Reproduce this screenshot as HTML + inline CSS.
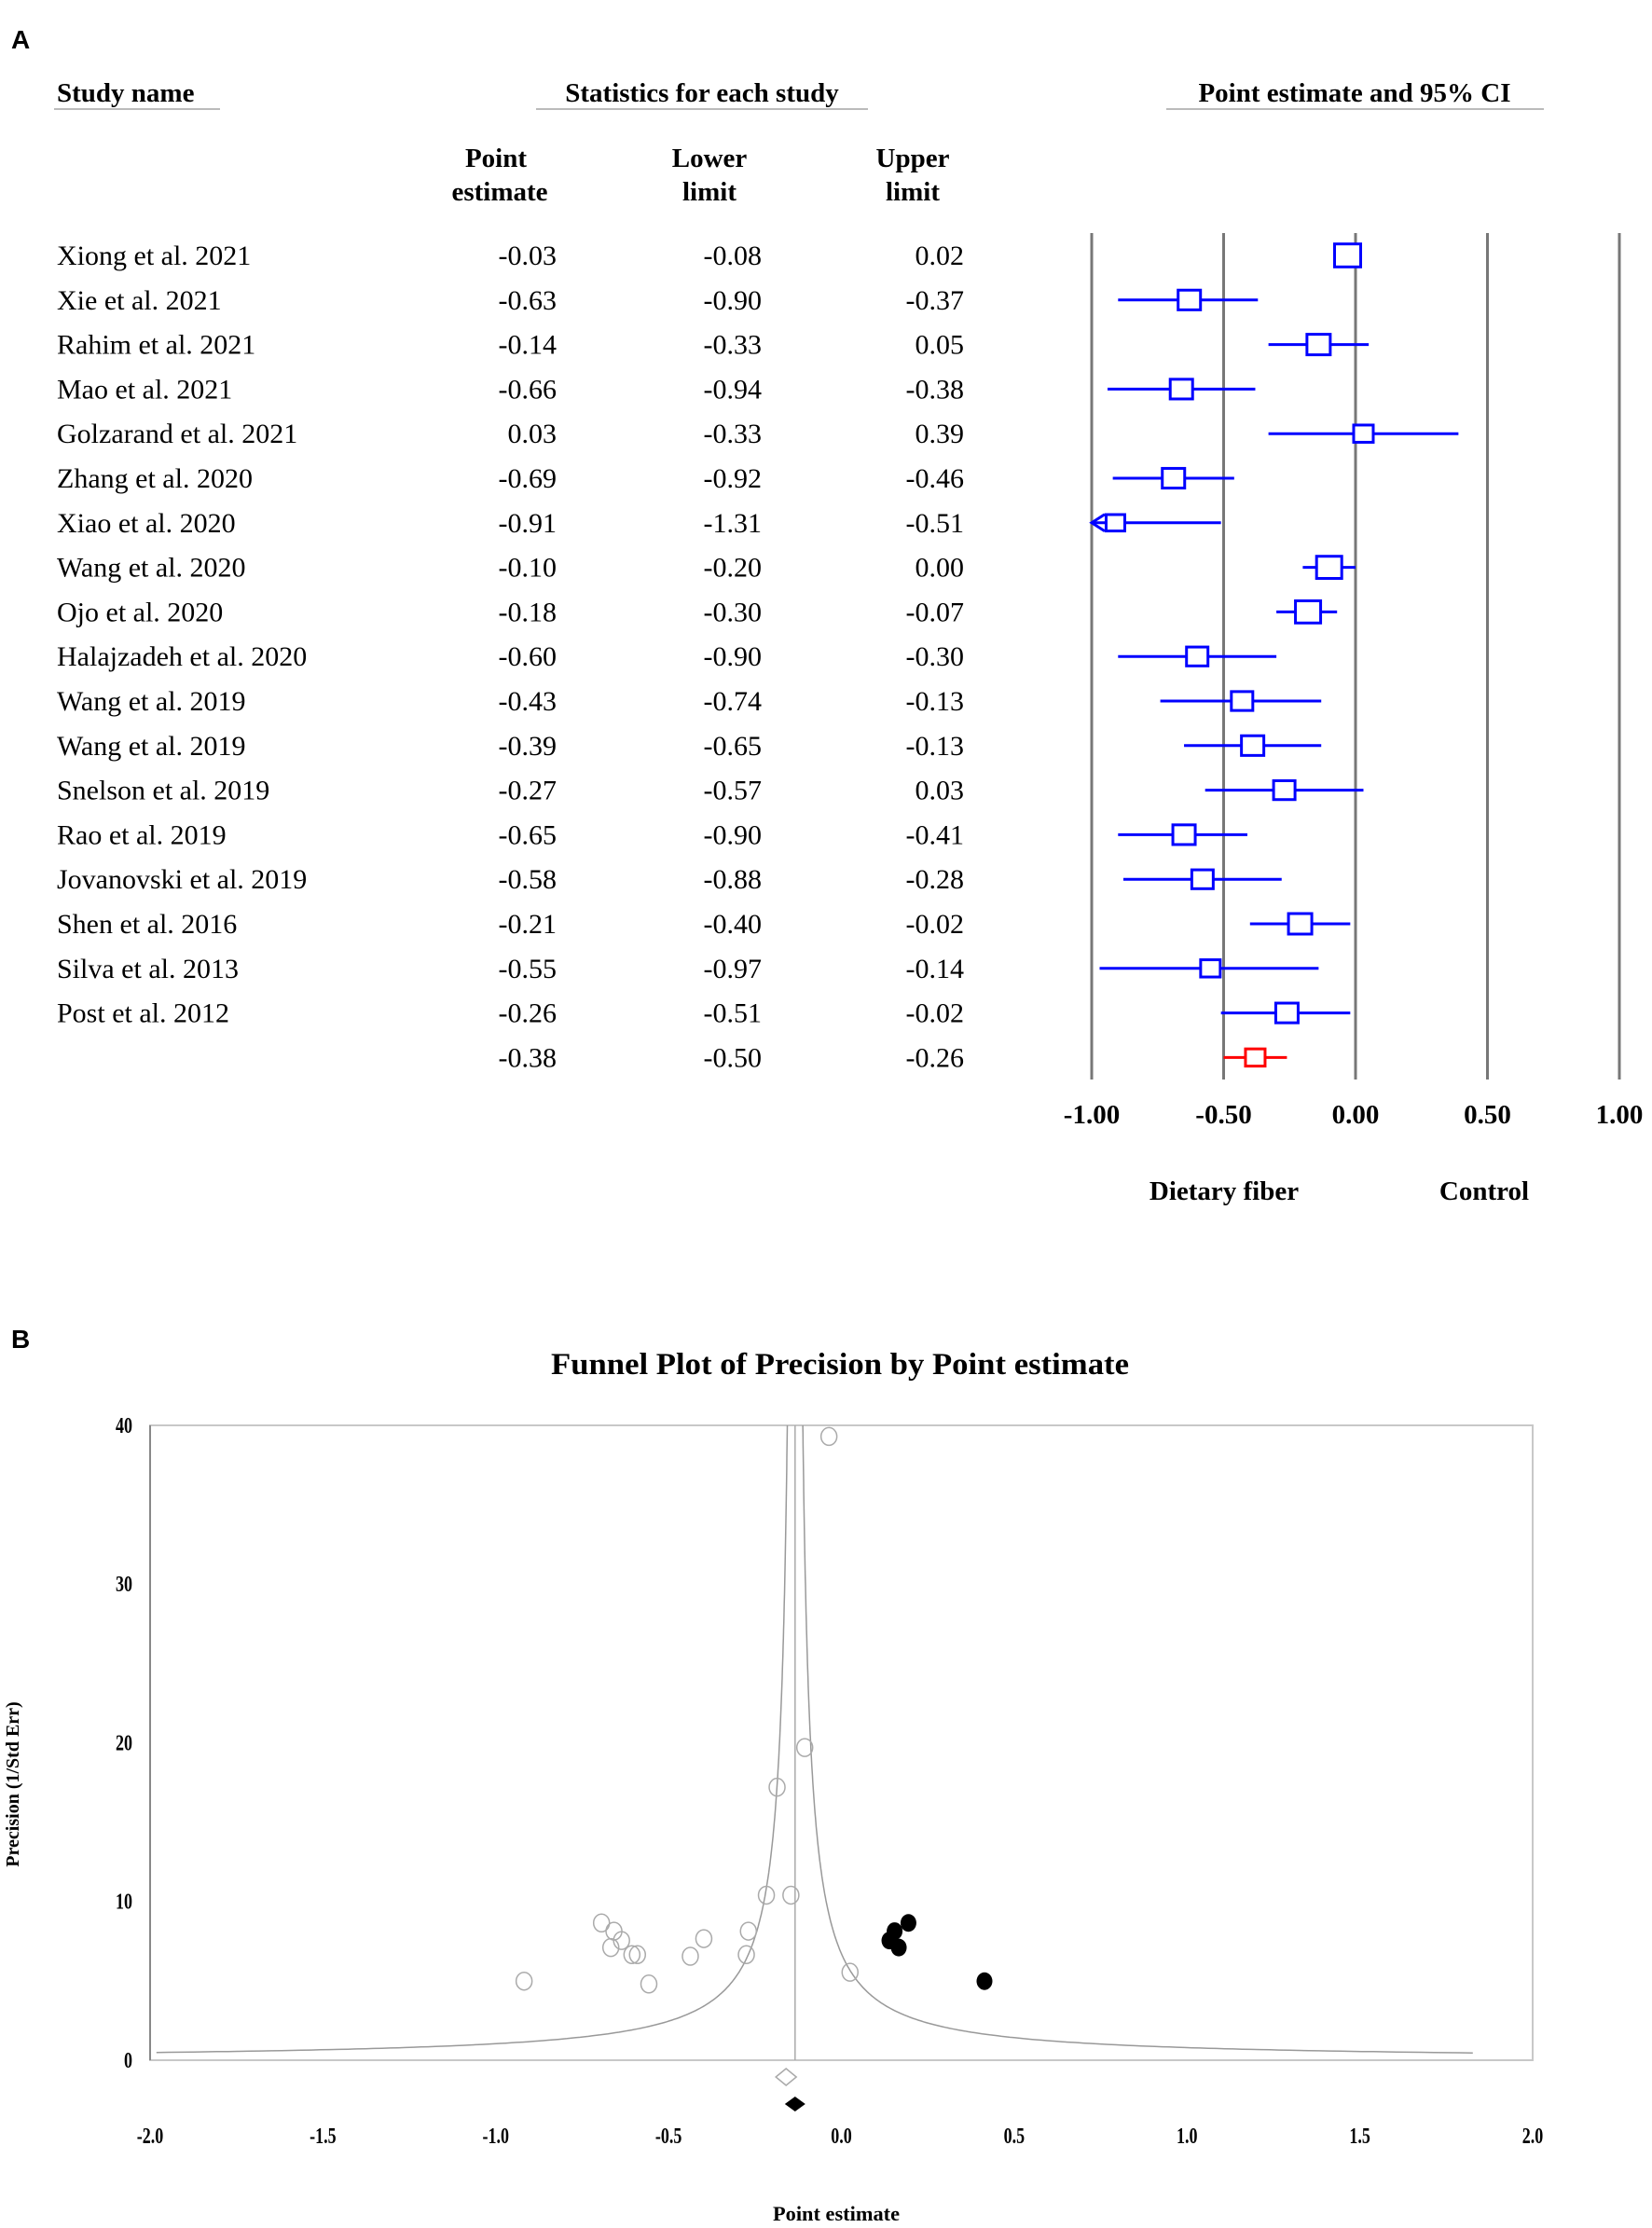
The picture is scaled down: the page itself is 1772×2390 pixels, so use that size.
<!DOCTYPE html>
<html><head><meta charset="utf-8"><style>
html,body{margin:0;padding:0;background:#fff;}
svg{display:block;}
</style></head><body>
<svg id="fig" width="1772" height="2390" viewBox="0 0 1772 2390" xmlns="http://www.w3.org/2000/svg" font-family="'Liberation Serif', serif">
<text x="12" y="52" font-family="'Liberation Sans', sans-serif" font-weight="bold" font-size="28">A</text>
<text x="12" y="1446" font-family="'Liberation Sans', sans-serif" font-weight="bold" font-size="28">B</text>
<g font-weight="bold" font-size="29">
<text x="61" y="109">Study name</text>
<line x1="58" y1="117" x2="236" y2="117" stroke="#bbb" stroke-width="2"/>
<text x="753" y="109" text-anchor="middle">Statistics for each study</text>
<line x1="575" y1="117" x2="931" y2="117" stroke="#bbb" stroke-width="2"/>
<text x="1453" y="109" text-anchor="middle">Point estimate and 95% CI</text>
<line x1="1251" y1="117" x2="1656" y2="117" stroke="#bbb" stroke-width="2"/>
<text x="532" y="179" text-anchor="middle">Point</text><text x="536" y="215" text-anchor="middle">estimate</text>
<text x="761" y="179" text-anchor="middle">Lower</text><text x="761" y="215" text-anchor="middle">limit</text>
<text x="979" y="179" text-anchor="middle">Upper</text><text x="979" y="215" text-anchor="middle">limit</text>
</g>
<g id="forest"></g>
<g id="funnel"></g>
</svg>
<script>
const studies=["Xiong et al. 2021","Xie et al. 2021","Rahim et al. 2021","Mao et al. 2021","Golzarand et al. 2021","Zhang et al. 2020","Xiao et al. 2020","Wang et al. 2020","Ojo et al. 2020","Halajzadeh et al. 2020","Wang et al. 2019","Wang et al. 2019","Snelson et al. 2019","Rao et al. 2019","Jovanovski et al. 2019","Shen et al. 2016","Silva et al. 2013","Post et al. 2012",""];
const pointEst=[-0.03,-0.63,-0.14,-0.66,0.03,-0.69,-0.91,-0.10,-0.18,-0.60,-0.43,-0.39,-0.27,-0.65,-0.58,-0.21,-0.55,-0.26,-0.38];
const lowerLim=[-0.08,-0.90,-0.33,-0.94,-0.33,-0.92,-1.31,-0.20,-0.30,-0.90,-0.74,-0.65,-0.57,-0.90,-0.88,-0.40,-0.97,-0.51,-0.50];
const upperLim=[0.02,-0.37,0.05,-0.38,0.39,-0.46,-0.51,0.00,-0.07,-0.30,-0.13,-0.13,0.03,-0.41,-0.28,-0.02,-0.14,-0.02,-0.26];
const boxSize=[28,24,25,24,21,24,20,27,27,23,23,24,23,24,23,25,21,24,21];
const forestTicks=[-1,-0.5,0,0.5,1];
const forestTickLabels=["-1.00","-0.50","0.00","0.50","1.00"];

const funnelOpenX=[-0.036,-0.106,-0.186,-0.217,-0.146,-0.694,-0.658,-0.667,-0.636,-0.606,-0.59,-0.437,-0.398,-0.269,-0.275,-0.918,-0.557,0.025];
const funnelOpenY=[39.3,19.7,17.2,10.4,10.4,8.65,8.13,7.1,7.54,6.65,6.65,6.55,7.66,8.13,6.65,4.98,4.8,5.54];
const funnelFilledX=[0.139,0.154,0.166,0.194,0.414];
const funnelFilledY=[7.54,8.13,7.1,8.65,4.98];
const funnelXTicks=[-2,-1.5,-1,-0.5,0,0.5,1,1.5,2];
const funnelXTickLabels=["-2.0","-1.5","-1.0","-0.5","0.0","0.5","1.0","1.5","2.0"];
const funnelYTicks=[0,10,20,30,40];
const observedMean=-0.16;
const adjustedMean=-0.134;

const NS="http://www.w3.org/2000/svg";
function mk(tag,attrs,parent,text){const e=document.createElementNS(NS,tag);for(const k in attrs)e.setAttribute(k,attrs[k]);if(text!==undefined)e.textContent=text;parent.appendChild(e);return e;}

// forest
const fg=document.getElementById('forest');
const fx=v=>1454+v*283;
const fy=i=>274+i*47.8;
forestTicks.forEach((t,i)=>{
  const l=mk('line',{x1:fx(t),y1:250,x2:fx(t),y2:1158,stroke:'#777','stroke-width':3},fg);
  
  
  const tx=mk('text',{x:fx(t),y:1205,'text-anchor':'middle','font-weight':'bold','font-size':29},fg,forestTickLabels[i]);
  
  
});
const d1=mk('text',{x:1313,y:1287,'text-anchor':'middle','font-weight':'bold','font-size':29},fg,'Dietary fiber');


const d2=mk('text',{x:1592,y:1287,'text-anchor':'middle','font-weight':'bold','font-size':29},fg,'Control');


pointEst.forEach((p,i)=>{
  const y=fy(i);
  const summary=i===pointEst.length-1;
  const col=summary?'#ff0000':'#0000ff';
  const g=mk('g',{},fg);
  
  
  mk('text',{x:61,y:y+10,'font-size':30},g,studies[i]);
  mk('text',{x:597,y:y+10,'font-size':30,'text-anchor':'end'},g,pointEst[i].toFixed(2));
  mk('text',{x:817,y:y+10,'font-size':30,'text-anchor':'end'},g,lowerLim[i].toFixed(2));
  mk('text',{x:1034,y:y+10,'font-size':30,'text-anchor':'end'},g,upperLim[i].toFixed(2));
  const lo=Math.max(lowerLim[i],-1), hi=Math.min(upperLim[i],1);
  const ln=mk('line',{x1:fx(lo),y1:y,x2:fx(hi),y2:y,stroke:col,'stroke-width':3},g);
  
  
  if(lowerLim[i]<-1){
    mk('polyline',{points:`${fx(-1)+14},${y-9} ${fx(-1)},${y} ${fx(-1)+14},${y+9}`,fill:'none',stroke:col,'stroke-width':3},g);
  }
  const w=boxSize[i],h=w*0.88;
  const b=mk('rect',{x:fx(p)-w/2,y:y-h/2,width:w,height:h,fill:'#fff',stroke:col,'stroke-width':3},g);
  
  
});

// funnel
const ug=document.getElementById('funnel');
const L=161,R=1644,T=1529,B=2210;
const ux=v=>L+(v+2)/4*(R-L);
const uy=v=>B-v/40*(B-T);
const tt=mk('text',{x:901,y:1474,'text-anchor':'middle','font-weight':'bold','font-size':33,textLength:620,lengthAdjust:'spacingAndGlyphs'},ug,'Funnel Plot of Precision by Point estimate');


const box=mk('rect',{x:L,y:T,width:R-L,height:B-T,fill:'none',stroke:'#c8c8c8','stroke-width':2},ug);


mk('line',{x1:L,y1:T,x2:L,y2:B,stroke:'#888','stroke-width':2},ug);
function curve(sign){let pts=[];for(let p=0.45;p<=41;p*=1.02){const x=adjustedMean+sign*0.9/p;if(x<-2||x>1.86)continue;pts.push(ux(x).toFixed(1)+','+uy(Math.min(p,40)).toFixed(1));}return pts.join(' ');}
const c1=mk('polyline',{points:curve(-1),fill:'none',stroke:'#999','stroke-width':1.5},ug);


const c2=mk('polyline',{points:curve(1),fill:'none',stroke:'#999','stroke-width':1.5},ug);


const ml=mk('line',{x1:ux(adjustedMean),y1:T,x2:ux(adjustedMean),y2:B,stroke:'#aaa','stroke-width':1.5},ug);


funnelXTicks.forEach((t,i)=>{
  const e=mk('text',{x:ux(t),y:2299,'text-anchor':'middle','font-weight':'bold','font-size':24,transform:`translate(${ux(t)*0.25},0) scale(0.75,1)`},ug,funnelXTickLabels[i]);
  
  
});
funnelYTicks.forEach(t=>{
  const e=mk('text',{x:142,y:uy(t)+8,'text-anchor':'end','font-weight':'bold','font-size':24,transform:`translate(${142*0.25},0) scale(0.75,1)`},ug,String(t));
  
  
});
const xt=mk('text',{x:897,y:2382,'text-anchor':'middle','font-weight':'bold','font-size':22,textLength:136,lengthAdjust:'spacingAndGlyphs'},ug,'Point estimate');


const yt=mk('text',{x:0,y:0,'text-anchor':'middle','font-weight':'bold','font-size':20,transform:'translate(20,1914) rotate(-90)'},ug,'Precision (1/Std Err)');


funnelOpenX.forEach((x,i)=>{
  const c=mk('ellipse',{cx:ux(x),cy:uy(funnelOpenY[i]),rx:8.5,ry:9.5,fill:'none',stroke:'#aaa','stroke-width':1.5},ug);
  
  
});
funnelFilledX.forEach((x,i)=>{
  const c=mk('ellipse',{cx:ux(x),cy:uy(funnelFilledY[i]),rx:8.5,ry:9.5,fill:'#000'},ug);
  
  
});
const ox=ux(observedMean),oy=2228;
const od=mk('polygon',{points:`${ox-11},${oy} ${ox},${oy-9} ${ox+11},${oy} ${ox},${oy+9}`,fill:'#fff',stroke:'#aaa','stroke-width':1.5},ug);


const ax=ux(adjustedMean),ay=2257;
const ad=mk('polygon',{points:`${ax-11},${ay} ${ax},${ay-8} ${ax+11},${ay} ${ax},${ay+8}`,fill:'#000'},ug);


</script>
</body></html>
